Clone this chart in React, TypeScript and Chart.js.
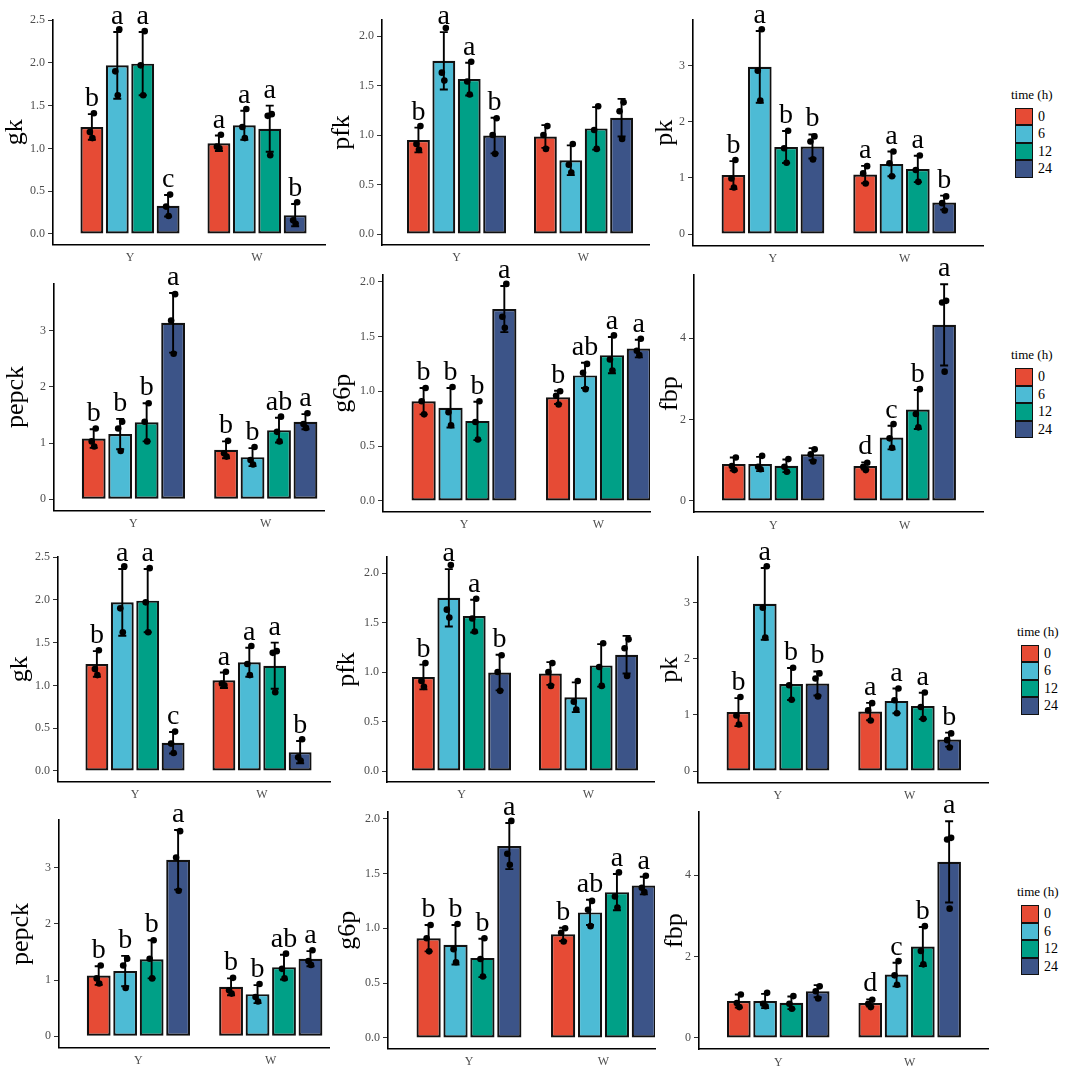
import React, { useEffect, useRef } from "react";
import { Chart, registerables } from "chart.js";

Chart.register(...registerables);
Chart.defaults.font.family = '"Liberation Serif", "Times New Roman", serif';

const groups = ["Y", "W"];
const times = ["0", "6", "12", "24"];
const timeColors = ["#E64B35", "#4DBBD5", "#00A087", "#3C5488"];

// values are [time][group]; points are the three replicates
const gkMean = [[1.25, 1.06], [1.97, 1.27], [1.99, 1.23], [0.33, 0.22]];
const gkSd = [[0.15, 0.09], [0.39, 0.17], [0.37, 0.27], [0.125, 0.13]];
const gkPoints = [
  [[1.41, 1.19, 1.12], [1.16, 1.02, 1.0]],
  [[2.39, 1.9, 1.62], [1.46, 1.25, 1.12]],
  [[2.37, 1.97, 1.62], [1.4, 1.38, 0.92]],
  [[0.46, 0.32, 0.21], [0.37, 0.16, 0.12]],
];
const gkLetters = [["b", "a"], ["a", "a"], ["a", "a"], ["c", "b"]];
const gkTicks = [0, 0.5, 1, 1.5, 2, 2.5];

const pfkMean = [[0.95, 0.985], [1.75, 0.745], [1.565, 1.067], [0.995, 1.175]];
const pfkSd = [[0.125, 0.115], [0.29, 0.15], [0.165, 0.215], [0.18, 0.19]];
const pfkPoints = [
  [[1.09, 0.91, 0.85], [1.09, 1.0, 0.86]],
  [[2.08, 1.63, 1.55], [0.91, 0.7, 0.62]],
  [[1.74, 1.54, 1.41], [1.29, 1.05, 0.86]],
  [[1.17, 1.0, 0.81], [1.33, 1.24, 0.96]],
];
const pfkLetters = [["b", ""], ["a", ""], ["a", ""], ["b", ""]];
const pfkTicks = [0, 0.5, 1, 1.5, 2];

const pkMean = [[1.05, 1.06], [2.98, 1.25], [1.55, 1.16], [1.56, 0.56]];
const pkSd = [[0.25, 0.155], [0.64, 0.22], [0.285, 0.235], [0.215, 0.125]];
const pkPoints = [
  [[1.32, 0.99, 0.83], [1.21, 1.08, 0.9]],
  [[3.65, 2.91, 2.38], [1.47, 1.26, 1.03]],
  [[1.84, 1.53, 1.27], [1.4, 1.14, 0.93]],
  [[1.74, 1.65, 1.33], [0.67, 0.55, 0.42]],
];
const pkLetters = [["b", "a"], ["a", "a"], ["b", "a"], ["b", "b"]];
const pkTicks = [0, 1, 2, 3];

const pepckMean = [[1.08, 0.88], [1.16, 0.75], [1.37, 1.23], [3.14, 1.38]];
const pepckSd = [[0.165, 0.15], [0.27, 0.16], [0.34, 0.22], [0.53, 0.135]];
const pepckPoints = [
  [[1.26, 1.03, 0.94], [1.04, 0.82, 0.76]],
  [[1.38, 1.26, 0.86], [0.93, 0.7, 0.62]],
  [[1.71, 1.38, 1.03], [1.47, 1.2, 1.03]],
  [[3.65, 3.18, 2.59], [1.53, 1.34, 1.27]],
];
const pepckLetters = [["b", "b"], ["b", "b"], ["b", "ab"], ["a", "a"]];
const pepckTicks = [0, 1, 2, 3];

const g6pMean = [[0.91, 0.945], [0.85, 1.145], [0.73, 1.33], [1.75, 1.39]];
const g6pSd = [[0.12, 0.06], [0.18, 0.115], [0.175, 0.165], [0.21, 0.08]];
const g6pPoints = [
  [[1.03, 0.91, 0.79], [1.0, 0.96, 0.88]],
  [[1.04, 0.81, 0.69], [1.25, 1.17, 1.02]],
  [[0.91, 0.72, 0.56], [1.51, 1.29, 1.19]],
  [[1.98, 1.68, 1.58], [1.48, 1.37, 1.33]],
];
const g6pLetters = [["b", "b"], ["b", "ab"], ["b", "a"], ["a", "a"]];
const g6pTicks = [0, 0.5, 1, 1.5, 2];

const fbpMean = [[0.91, 0.86], [0.91, 1.56], [0.865, 2.25], [1.15, 4.33]];
const fbpSd = [[0.16, 0.09], [0.175, 0.29], [0.155, 0.48], [0.15, 1.0]];
const fbpPoints = [
  [[1.07, 0.86, 0.76], [0.94, 0.84, 0.76]],
  [[1.11, 0.84, 0.78], [1.89, 1.54, 1.31]],
  [[1.03, 0.84, 0.72], [2.75, 2.14, 1.81]],
  [[1.27, 1.15, 0.97], [4.92, 4.88, 3.18]],
];
const fbpLetters = [["", "d"], ["", "c"], ["", "b"], ["", "a"]];
const fbpTicks = [0, 2, 4];

type Spec = {
  title: string;
  mean: number[][];
  sd: number[][];
  points: number[][][];
  letters: string[][];
  ticks: number[];
  digits: number;
  yMin: number;
  yMax: number;
  xMin: number;
  xMax: number;
};

type Frame = {
  cl: number; ct: number; cr: number; cb: number;
  left: number; right: number; top: number; bottom: number; titleX: number;
};

const specs: Spec[] = [
  { title: "gk", mean: gkMean, sd: gkSd, points: gkPoints, letters: gkLetters, ticks: gkTicks, digits: 1, yMin: -0.123, yMax: 2.5, xMin: 0.394, xMax: 2.535 },
  { title: "pfk", mean: pfkMean, sd: pfkSd, points: pfkPoints, letters: pfkLetters, ticks: pfkTicks, digits: 1, yMin: -0.111, yMax: 2.162, xMin: 0.413, xMax: 2.516 },
  { title: "pk", mean: pkMean, sd: pkSd, points: pkPoints, letters: pkLetters, ticks: pkTicks, digits: 0, yMin: -0.205, yMax: 3.815, xMin: 0.393, xMax: 2.595 },
  { title: "pepck", mean: pepckMean, sd: pepckSd, points: pepckPoints, letters: pepckLetters, ticks: pepckTicks, digits: 0, yMin: -0.203, yMax: 3.843, xMin: 0.4, xMax: 2.44 },
  { title: "g6p", mean: g6pMean, sd: g6pSd, points: g6pPoints, letters: g6pLetters, ticks: g6pTicks, digits: 1, yMin: -0.098, yMax: 2.061, xMin: 0.398, xMax: 2.383 },
  { title: "fbp", mean: fbpMean, sd: fbpSd, points: fbpPoints, letters: fbpLetters, ticks: fbpTicks, digits: 0, yMin: -0.278, yMax: 5.556, xMin: 0.397, xMax: 2.598 },
];

const topFrames: Frame[] = [
  { cl: 0, ct: 0, cr: 332, cb: 268, left: 53, right: 325, top: 20, bottom: 244.5, titleX: 15.5 },
  { cl: 326, ct: 0, cr: 656, cb: 268, left: 382, right: 649, top: 20, bottom: 245, titleX: 342 },
  { cl: 640, ct: 0, cr: 1000, cb: 268, left: 693, right: 983, top: 20, bottom: 245.5, titleX: 665 },
  { cl: 0, ct: 250, cr: 332, cb: 532, left: 54, right: 324, top: 283.3, bottom: 510.7, titleX: 16 },
  { cl: 326, ct: 250, cr: 656, cb: 532, left: 383, right: 650, top: 275, bottom: 511.7, titleX: 343 },
  { cl: 640, ct: 250, cr: 1000, cb: 532, left: 694, right: 983.3, top: 275, bottom: 512.3, titleX: 670 },
];

const shift = (f: Frame, dx: number, dy: number): Frame => ({
  cl: f.cl + dx, ct: f.ct + dy, cr: f.cr + dx, cb: f.cb + dy,
  left: f.left + dx, right: f.right + dx, top: f.top + dy, bottom: f.bottom + dy, titleX: f.titleX + dx,
});

const frames = [...topFrames, ...topFrames.map((f) => shift(f, 5, 537))];
const legendSpots = [
  { left: 1011, top: 86.5 },
  { left: 1011, top: 347 },
  { left: 1017, top: 623.5 },
  { left: 1017, top: 884 },
];

const jitter = [2, -2, 0.5];
const serif = '"Liberation Serif", "Times New Roman", serif';

function Panel({ spec, frame }: { spec: Spec; frame: Frame }) {
  const canvasRef = useRef<HTMLCanvasElement>(null);
  const w = frame.cr - frame.cl;
  const h = frame.cb - frame.ct;

  useEffect(() => {
    const canvas = canvasRef.current;
    if (!canvas) return;
    const padLeft = frame.titleX - 13 - frame.cl;
    const yWidth = frame.left - frame.cl - padLeft;
    const xHeight = frame.cb - frame.bottom;

    // error bars, replicate dots and significance letters
    const marks = {
      id: "marks",
      afterDatasetsDraw(chart: any) {
        const { ctx } = chart;
        const y = chart.scales.y;
        times.forEach((_, ti) => {
          const meta = chart.getDatasetMeta(ti);
          meta.data.forEach((bar: any, gi: number) => {
            const x = bar.x;
            const m = spec.mean[ti][gi];
            const s = spec.sd[ti][gi];
            const yTop = y.getPixelForValue(m + s);
            const yBot = y.getPixelForValue(m - s);
            ctx.save();
            ctx.strokeStyle = "#000";
            ctx.fillStyle = "#000";
            ctx.lineWidth = 1.9;
            ctx.beginPath();
            ctx.moveTo(x, yTop);
            ctx.lineTo(x, yBot);
            ctx.moveTo(x - 4, yTop);
            ctx.lineTo(x + 4, yTop);
            ctx.moveTo(x - 4, yBot);
            ctx.lineTo(x + 4, yBot);
            ctx.stroke();
            spec.points[ti][gi].forEach((v, k) => {
              ctx.beginPath();
              ctx.arc(x + jitter[k], y.getPixelForValue(v), 3.3, 0, Math.PI * 2);
              ctx.fill();
            });
            const letter = spec.letters[ti][gi];
            if (letter) {
              ctx.font = `28px ${serif}`;
              ctx.textAlign = "center";
              ctx.textBaseline = "alphabetic";
              ctx.fillText(letter, x, yTop - 8);
            }
            ctx.restore();
          });
        });
      },
    };

    const chart = new Chart(canvas, {
      type: "bar",
      data: {
        datasets: times.map((t, ti) => ({
          label: t,
          data: groups.map((_, gi) => ({ x: gi + 1, y: spec.mean[ti][gi] })),
          backgroundColor: timeColors[ti],
          borderColor: "#111",
          borderWidth: 2.2,
          borderSkipped: false,
          categoryPercentage: 0.8,
          barPercentage: 0.9,
        })),
      },
      options: {
        animation: false,
        responsive: false,
        events: [],
        layout: {
          padding: { left: padLeft, top: frame.top - frame.ct, right: frame.cr - frame.right, bottom: 0 },
        },
        plugins: {
          legend: { display: false },
          tooltip: { enabled: false },
        },
        scales: {
          x: {
            type: "linear",
            min: spec.xMin,
            max: spec.xMax,
            offset: false,
            grid: { display: false, drawTicks: false },
            border: { display: true, color: "#000", width: 1.6 },
            ticks: {
              padding: 6,
              color: "#4D4D4D",
              font: { size: 12, family: serif },
              callback: (v: any) => groups[Number(v) - 1] ?? "",
            },
            afterBuildTicks: (axis: any) => {
              axis.ticks = groups.map((_, i) => ({ value: i + 1 }));
            },
            afterFit: (axis: any) => {
              axis.height = xHeight;
            },
          },
          y: {
            type: "linear",
            min: spec.yMin,
            max: spec.yMax,
            grid: { drawOnChartArea: false, drawTicks: true, tickLength: 5, color: "#333", lineWidth: 1 },
            border: { display: true, color: "#000", width: 1.6 },
            title: {
              display: true,
              text: spec.title,
              color: "#000",
              padding: 0,
              font: { size: 26, family: serif, lineHeight: 1 },
            },
            ticks: {
              padding: 3,
              color: "#4D4D4D",
              font: { size: 12, family: serif },
              callback: (v: any) => Number(v).toFixed(spec.digits),
            },
            afterBuildTicks: (axis: any) => {
              axis.ticks = spec.ticks.map((v) => ({ value: v }));
            },
            afterFit: (axis: any) => {
              axis.width = yWidth;
            },
          },
        },
      },
      plugins: [marks],
    } as any);

    return () => {
      chart.destroy();
    };
  }, [spec, frame]);

  return (
    <canvas
      ref={canvasRef}
      width={w}
      height={h}
      style={{ position: "absolute", left: frame.cl, top: frame.ct, width: w, height: h }}
    />
  );
}

function Legend({ left, top }: { left: number; top: number }) {
  return (
    <div style={{ position: "absolute", left, top, fontFamily: serif, color: "#000" }}>
      <div style={{ fontSize: 13, lineHeight: "15px", whiteSpace: "nowrap" }}>time (h)</div>
      <div style={{ marginTop: 6, marginLeft: 4 }}>
        {times.map((t, i) => (
          <div key={t} style={{ display: "flex", alignItems: "center", height: 17.5 }}>
            <div
              style={{
                width: 18,
                height: 17.5,
                boxSizing: "border-box",
                border: "1.8px solid #111",
                background: timeColors[i],
              }}
            />
            <span style={{ marginLeft: 5, fontSize: 14, lineHeight: "17.5px" }}>{t}</span>
          </div>
        ))}
      </div>
    </div>
  );
}

export default function App() {
  return (
    <div
      style={{
        position: "absolute",
        left: 0,
        top: 0,
        width: 1065,
        height: 1072,
        background: "#fff",
        overflow: "hidden",
      }}
    >
      {frames.map((f, i) => (
        <Panel key={i} spec={specs[i % 6]} frame={f} />
      ))}
      {legendSpots.map((s, i) => (
        <Legend key={i} left={s.left} top={s.top} />
      ))}
    </div>
  );
}
